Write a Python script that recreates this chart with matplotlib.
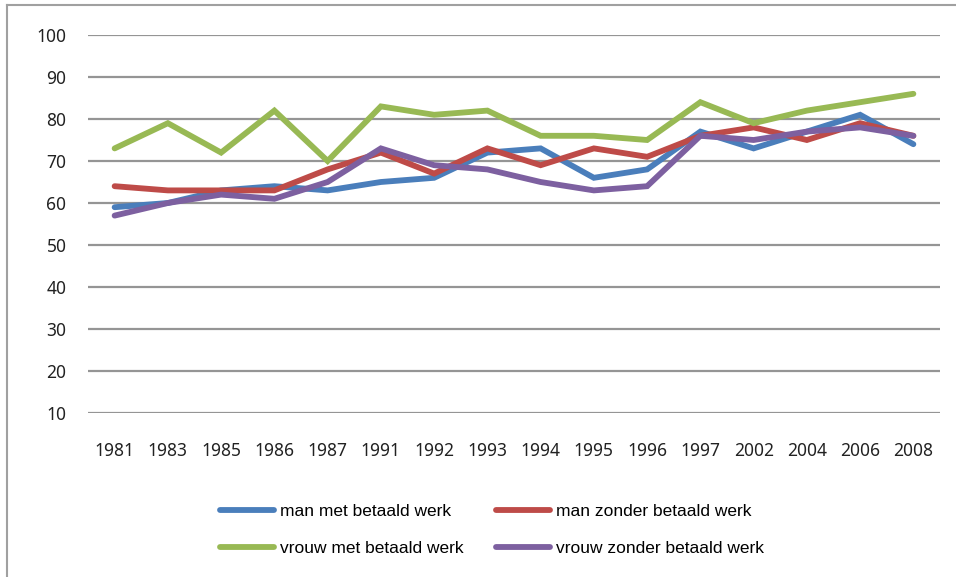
import matplotlib
matplotlib.use("Agg")
import matplotlib.pyplot as plt
from matplotlib.lines import Line2D

years = ["1981", "1983", "1985", "1986", "1987", "1991", "1992", "1993",
         "1994", "1995", "1996", "1997", "2002", "2004", "2006", "2008"]

man_met = [59, 60, 63, 64, 63, 65, 66, 72, 73, 66, 68, 77, 73, 77, 81, 74]
man_zonder = [64, 63, 63, 63, 68, 72, 67, 73, 69, 73, 71, 76, 78, 75, 79, 76]
vrouw_met = [73, 79, 72, 82, 70, 83, 81, 82, 76, 76, 75, 84, 79, 82, 84, 86]
vrouw_zonder = [57, 60, 62, 61, 65, 73, 69, 68, 65, 63, 64, 76, 75, 77, 78, 76]

series = [
    ("man met betaald werk", man_met, "#4a7ebb"),
    ("man zonder betaald werk", man_zonder, "#be4b48"),
    ("vrouw met betaald werk", vrouw_met, "#98b954"),
    ("vrouw zonder betaald werk", vrouw_zonder, "#7d60a0"),
]

W, H = 956, 577
fig = plt.figure(figsize=(W / 100, H / 100), dpi=100)
ax = fig.add_axes([88 / W, 1 - 413 / H, (940 - 88) / W, (413 - 35) / H])

x = list(range(len(years)))
for name, vals, col in series:
    ax.plot(x, vals, color=col, lw=4.2, solid_joinstyle="miter",
            solid_capstyle="round", label=name, zorder=3)

ax.set_xlim(-0.5, len(years) - 0.5)
ax.set_ylim(10, 100)
ax.set_yticks(range(10, 101, 10))
ax.set_xticks(x)
ax.set_xticklabels(years)
ax.grid(axis="y", color="#959595", lw=1.6, zorder=1)
for s in ax.spines.values():
    s.set_visible(False)
ax.tick_params(length=0, labelsize=12.5, colors="#222222")
ax.tick_params(axis="y", pad=15.5)
ax.tick_params(axis="x", pad=21)
for lab in ax.get_xticklabels() + ax.get_yticklabels():
    lab.set_fontfamily("Noto Sans")

# outer frame (top and left edges visible)
fig.add_artist(Line2D([7 / W, 1], [1 - 5 / H, 1 - 5 / H], color="#a0a0a0", lw=1.5))
fig.add_artist(Line2D([7 / W, 7 / W], [0, 1 - 5 / H], color="#a0a0a0", lw=1.5))

handles = [Line2D([], [], color=c, lw=4.2, solid_capstyle="round") for _, _, c in series]
labels = [n for n, _, _ in series]
# reorder so rows read: man met / man zonder, vrouw met / vrouw zonder
order = [0, 2, 1, 3]
fig.legend([handles[i] for i in order], [labels[i] for i in order],
           ncol=2, loc="center", bbox_to_anchor=(492 / W, 1 - 530 / H),
           frameon=False, handlelength=3.1, handletextpad=0.35,
           columnspacing=1.85, labelspacing=1.23,
           prop={"family": "Liberation Sans", "size": 12.5})

fig.savefig("out.png", dpi=100, facecolor="white")
